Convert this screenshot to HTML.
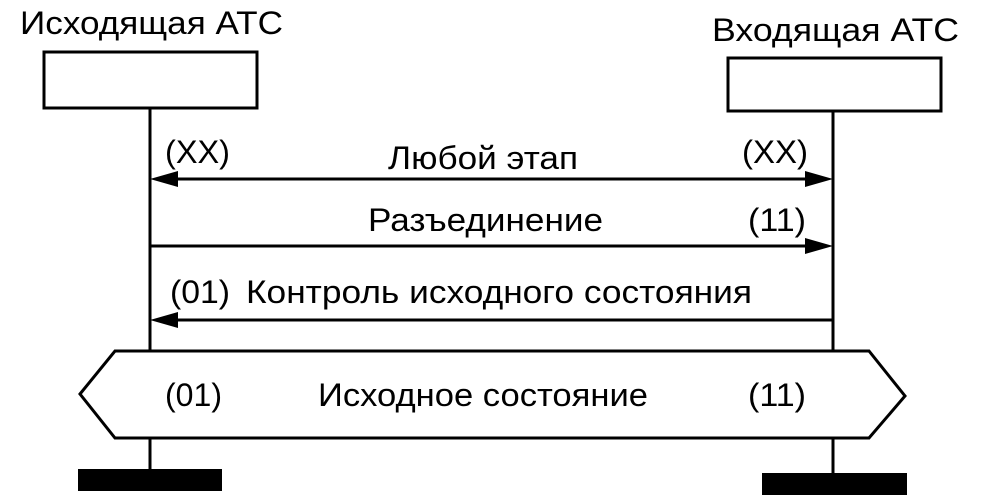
<!DOCTYPE html>
<html><head><meta charset="utf-8"><style>body{margin:0;background:#fff}svg{display:block}</style></head>
<body>
<svg width="984" height="504" viewBox="0 0 984 504" xmlns="http://www.w3.org/2000/svg" font-family="Liberation Sans, Arial, sans-serif" font-size="32" fill="#000">
<rect width="984" height="504" fill="#fff"/>
<g stroke="#000" stroke-width="3" fill="none">
<rect x="44" y="52" width="213" height="56"/>
<rect x="728" y="58" width="213" height="53"/>
<line x1="150" y1="108" x2="150" y2="351"/>
<line x1="833" y1="111" x2="833" y2="351"/>
<line x1="150" y1="438" x2="150" y2="470"/>
<line x1="833" y1="438" x2="833" y2="474"/>
<line x1="165" y1="179" x2="820" y2="179"/>
<line x1="150" y1="246" x2="820" y2="246"/>
<line x1="165" y1="320" x2="833" y2="320"/>
<polygon points="80,394 115,351 869,351 905,396 869,438 115,438"/>
</g>
<g>
<polygon points="150,179 178,171 178,187"/>
<polygon points="833,179 805,171 805,187"/>
<polygon points="833,246 805,238 805,254"/>
<polygon points="150,320 178,312 178,328"/>
<rect x="78" y="469" width="144" height="22"/>
<rect x="762" y="473" width="145" height="22"/>
</g>
<text x="20" y="34" textLength="263" lengthAdjust="spacingAndGlyphs">Исходящая АТС</text>
<text x="712" y="41" textLength="247" lengthAdjust="spacingAndGlyphs">Входящая АТС</text>
<text x="165" y="163" textLength="65" lengthAdjust="spacingAndGlyphs">(XX)</text>
<text x="388" y="169" textLength="190" lengthAdjust="spacingAndGlyphs">Любой этап</text>
<text x="742" y="163" textLength="66" lengthAdjust="spacingAndGlyphs">(XX)</text>
<text x="368" y="231" textLength="235" lengthAdjust="spacingAndGlyphs">Разъединение</text>
<text x="748" y="231" textLength="58" lengthAdjust="spacingAndGlyphs">(11)</text>
<text x="170" y="303" textLength="60" lengthAdjust="spacingAndGlyphs">(01)</text>
<text x="246" y="303" textLength="506" lengthAdjust="spacingAndGlyphs">Контроль исходного состояния</text>
<text x="165" y="406" textLength="57" lengthAdjust="spacingAndGlyphs">(01)</text>
<text x="318" y="406" textLength="330" lengthAdjust="spacingAndGlyphs">Исходное состояние</text>
<text x="748" y="406" textLength="58" lengthAdjust="spacingAndGlyphs">(11)</text>
</svg>
</body></html>
